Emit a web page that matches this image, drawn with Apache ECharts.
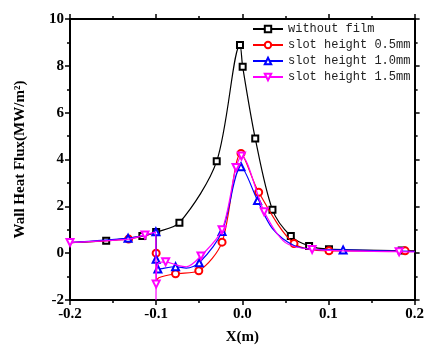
<!DOCTYPE html>
<html><head><meta charset="utf-8">
<script src="https://cdn.jsdelivr.net/npm/echarts@6/dist/echarts.min.js"></script>
<style>html,body{margin:0;padding:0;background:#fff}#c{width:427px;height:356px}</style>
</head><body><div id="c"></div>
<script>
// [x (m), heat flux (MW/m^2), marker shown (1) or curve-only point (0)]
var noFilm = [[-0.2,0.45,0],[-0.158,0.53,1],[-0.116,0.73,1],[-0.1,0.9,1],[-0.073,1.3,1],[-0.0297,3.93,1],[-0.0027,8.89,1],[0.0004,7.96,1],[0.015,4.9,1],[0.035,1.85,1],[0.0563,0.73,1],[0.0775,0.31,1],[0.1006,0.17,1],[0.185,0.11,1],[0.2,0.1,0]];
var slot05 = [[-0.2,0.45,0],[-0.132,0.6,1],[-0.113,0.75,0],[-0.1003,0.9,0],[-0.1,0.0,1],[-0.0997,-1.2,0],[-0.097,-1.05,0],[-0.0775,-0.88,1],[-0.0505,-0.75,1],[-0.0235,0.47,1],[-0.0015,4.26,1],[0.019,2.6,1],[0.06,0.41,1],[0.1006,0.1,1],[0.189,0.1,1],[0.2,0.08,0]];
var slot10 = [[-0.2,0.45,0],[-0.1326,0.64,1],[-0.113,0.76,0],[-0.1003,0.91,1],[-0.1,-0.26,1],[-0.098,-0.68,1],[-0.0775,-0.58,1],[-0.065,-0.64,0],[-0.05,-0.41,1],[-0.0235,0.93,1],[-0.0015,3.69,1],[0.0177,2.25,1],[0.035,1.05,0],[0.06,0.33,0],[0.085,0.16,0],[0.117,0.14,1],[0.2,0.08,0]];
var slot15 = [[-0.2,0.46,1],[-0.132,0.6,0],[-0.113,0.78,1],[-0.1004,0.9,0],[-0.1002,-2.0,0],[-0.1,-1.32,1],[-0.098,-0.45,0],[-0.089,-0.37,1],[-0.077,-0.5,0],[-0.065,-0.58,0],[-0.048,-0.12,1],[-0.0235,1.0,1],[-0.0073,3.66,1],[-0.001,4.15,1],[0.0254,1.77,1],[0.05,0.45,0],[0.081,0.16,1],[0.182,0.06,1],[0.2,0.05,0]];
var seriesNames = ['without film','slot height 0.5mm','slot height 1.0mm','slot height 1.5mm'];
var xTicks = [-0.2,-0.1,0.0,0.1,0.2];
var yTicks = [-2,0,2,4,6,8,10];

var colors = ['#000000','#ff0000','#0000ff','#ff00ff'];
var symbols = ['emptyRect','emptyCircle','emptyTriangle','emptyTriangle'];
var rotates = [0,0,0,180];
var sizes = [6,7,7,7];
var sets = [noFilm, slot05, slot10, slot15];

function build(arr){
  return arr.map(function(p){
    return p[2] ? {value:[p[0],p[1]]} : {value:[p[0],p[1]], symbol:'none'};
  });
}

var lab = {fontFamily:'Liberation Serif', fontWeight:'bold', fontSize:15, color:'#000'};
var axLine = {show:true, onZero:false, lineStyle:{color:'#000', width:2}};
var tick = {show:true, inside:false, length:5, lineStyle:{color:'#000', width:1.5}};
var minor = {show:true, splitNumber:2, length:3, lineStyle:{color:'#000', width:1.5}};

var chart = echarts.init(document.getElementById('c'), null, {renderer:'canvas'});
chart.setOption({
  animation:false,
  backgroundColor:'#fff',
  grid:{left:70, right:11, top:19, bottom:56},
  legend:{
    orient:'vertical', left:252, top:23, padding:0, itemGap:4, itemWidth:30, itemHeight:8,
    data:seriesNames,
    textStyle:{fontFamily:'Liberation Mono', fontSize:12, color:'#222'}
  },
  xAxis:[{
    type:'value', min:xTicks[0], max:xTicks[xTicks.length-1], interval:0.1,
    name:'X(m)', nameLocation:'middle', nameGap:30, nameTextStyle:lab,
    axisLine:axLine, axisTick:tick, minorTick:minor, splitLine:{show:false},
    axisLabel:Object.assign({margin:7, formatter:function(v){return v.toFixed(1);}}, lab)
  },{
    type:'value', position:'top', min:xTicks[0], max:xTicks[xTicks.length-1], interval:0.1,
    axisLine:axLine, axisTick:tick, minorTick:minor, splitLine:{show:false}, axisLabel:{show:false}
  }],
  yAxis:[{
    type:'value', min:yTicks[0], max:yTicks[yTicks.length-1], interval:2,
    name:'Wall Heat Flux(MW/m²)', nameLocation:'middle', nameGap:42, nameTextStyle:lab,
    axisLine:axLine, axisTick:tick, minorTick:minor, splitLine:{show:false},
    axisLabel:Object.assign({margin:6}, lab)
  },{
    type:'value', position:'right', min:yTicks[0], max:yTicks[yTicks.length-1], interval:2,
    axisLine:axLine, axisTick:tick, minorTick:minor, splitLine:{show:false}, axisLabel:{show:false}
  }],
  series: sets.map(function(s,i){
    return {
      name:seriesNames[i], type:'line', xAxisIndex:0, yAxisIndex:0,
      data:build(s), smooth:0.3, clip:true,
      symbol:symbols[i], symbolSize:sizes[i], symbolRotate:rotates[i],
      showAllSymbol:true,
      itemStyle:{color:colors[i], borderWidth:1},
      lineStyle:{color:colors[i], width:1.2},
      z: 2+i
    };
  })
});
</script></body></html>
